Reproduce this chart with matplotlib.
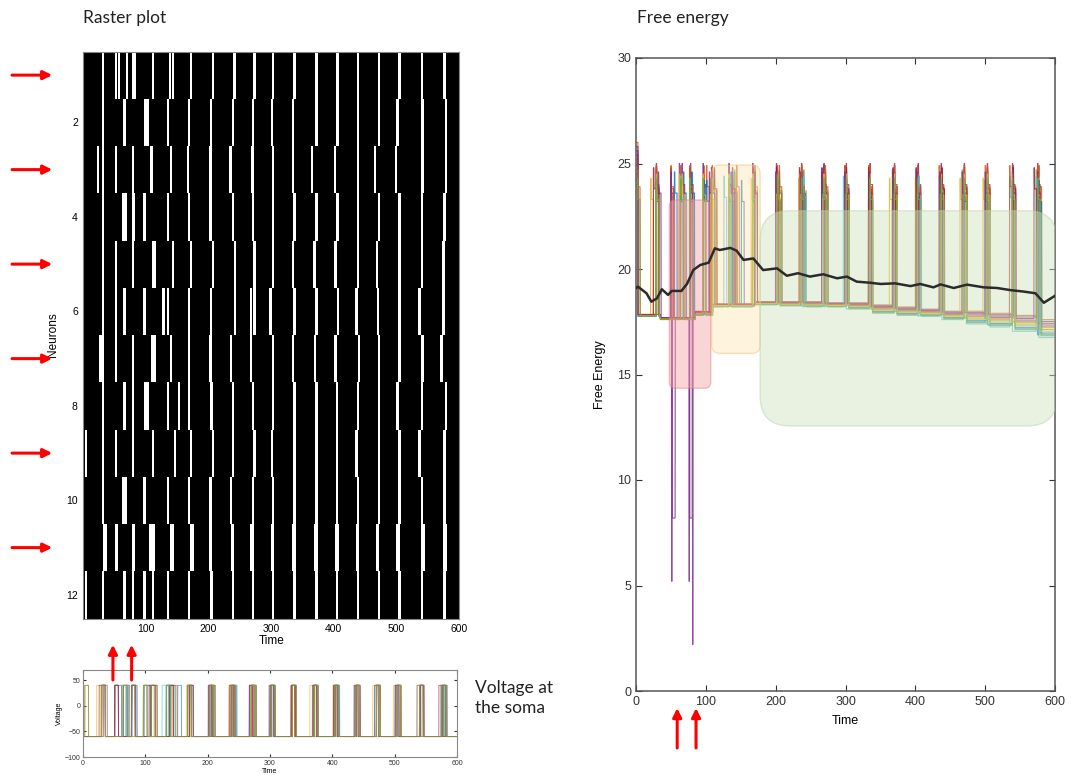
import numpy as np
import matplotlib.pyplot as plt
from matplotlib.patches import FancyBboxPatch
from matplotlib.transforms import blended_transform_factory

plt.rcParams['font.family'] = ['Liberation Sans', 'DejaVu Sans']

# spike onset times per neuron (neuron 1 first)
spikes = [
    [29, 50, 55, 68, 77, 80, 109, 136, 141, 170, 205, 239, 271, 301, 335, 370, 404, 437, 470, 503, 539, 575],
    [29, 64, 97, 101, 133, 167, 202, 237, 269, 299, 333, 370, 404, 437, 470, 500, 540, 577],
    [21, 29, 50, 77, 107, 138, 165, 201, 233, 268, 301, 333, 363, 400, 437, 464, 497, 540, 577],
    [29, 62, 66, 78, 96, 133, 167, 201, 237, 269, 301, 335, 370, 404, 437, 470, 503, 539, 575],
    [29, 50, 77, 109, 112, 141, 170, 205, 240, 271, 301, 333, 367, 401, 437, 467, 503, 539, 573],
    [29, 50, 64, 96, 126, 133, 167, 202, 240, 266, 271, 297, 335, 370, 405, 434, 469, 503, 535, 573],
    [25, 29, 50, 77, 108, 112, 138, 167, 201, 234, 266, 301, 333, 368, 401, 438, 470, 503, 540, 570],
    [29, 64, 77, 97, 101, 133, 151, 167, 203, 237, 269, 301, 335, 370, 403, 437, 470, 500, 539, 577],
    [2, 29, 50, 77, 109, 144, 170, 205, 237, 271, 299, 335, 370, 403, 434, 470, 503, 535, 575],
    [29, 62, 66, 96, 133, 167, 201, 234, 269, 301, 335, 370, 403, 437, 470, 503, 539, 575],
    [32, 50, 77, 105, 109, 138, 170, 200, 235, 266, 299, 334, 368, 402, 435, 467, 500, 540, 575],
    [2, 29, 64, 77, 96, 109, 133, 167, 203, 237, 269, 301, 335, 370, 403, 437, 470, 503, 539, 575],
]
spike_width = [4, 4, 4, 4, 4, 4, 4, 4, 4, 4, 6, 4]
volt_dur = 7
arrow_neurons = [1, 3, 5, 7, 9, 11]

# free energy: resting level between bursts (top / bottom of the bundle)
base_t = [0, 3, 35, 85, 110, 170, 205, 239, 271, 301, 335, 370, 404, 437, 470, 503, 539, 575]
base_hi = [26.0, 17.85, 17.7, 18.0, 18.35, 18.45, 18.45, 18.45, 18.4, 18.4, 18.3, 18.2, 18.1, 18.0, 18.0, 17.9, 17.8, 17.6]
base_lo = [24.0, 17.75, 17.6, 17.8, 18.2, 18.3, 18.25, 18.2, 18.2, 18.1, 17.9, 17.8, 17.75, 17.6, 17.4, 17.25, 17.05, 16.75]
base_rank = [0.75, 0.0, 0.45, 0.3, 0.55, 1.0, 0.2, 0.85, 0.4, 0.65, 0.1, 0.9]
fe_peak = [24.6, 24.9, 24.3, 25.0, 24.7, 24.4, 24.8, 24.2, 24.9, 24.5, 24.6, 24.3]
fe_dur = 4

# drops of the two purple traces
dip_neuron = [3, 10, 3, 10, 10]
dip_start = [51, 52, 76, 77, 81]
dip_end = [51.5, 56, 76.5, 80.5, 81.5]
dip_value = [5.2, 8.2, 5.2, 8.2, 2.2]

# mean free energy (black)
mean_t = [0, 3, 15, 22, 30, 37, 46, 51, 65, 73, 82, 92, 104, 113, 120, 135, 144, 154, 168, 182, 202,
          216, 232, 249, 268, 288, 302, 316, 335, 350, 371, 393, 407, 426, 436, 455, 474, 498, 517,
          536, 555, 572, 584, 600]
mean_v = [19.1, 19.16, 18.85, 18.45, 18.61, 19.04, 18.77, 18.96, 18.96, 19.29, 19.95, 20.19, 20.3,
          20.98, 20.9, 21.0, 20.87, 20.43, 20.5, 19.95, 20.03, 19.68, 19.8, 19.64, 19.75, 19.56,
          19.64, 19.4, 19.35, 19.29, 19.32, 19.19, 19.29, 19.13, 19.27, 19.1, 19.26, 19.13, 19.1,
          19.0, 18.93, 18.85, 18.4, 18.73]

# highlighted phases: t0, t1, low, high, face, edge, corner radius (px)
phases = [
    (47.7, 107.0, 14.35, 23.27, '#f4a3a3', '#e07a7a', 6),
    (108.4, 177.7, 16.0, 24.93, '#fde7b5', '#e6c46c', 8),
    (177.7, 603.0, 12.56, 22.76, '#cfe3bd', '#b9d0a4', 30),
]

voltage_arrows = [48, 78]
fe_arrows = [59, 86]

matlab_colors = ['#0072BD', '#D95319', '#EDB120', '#7E2F8E', '#77AC30', '#4DBEEE', '#A2142F']

t = np.arange(0, 600.25, 0.25)
seg = np.searchsorted(base_t, t, side='right') - 1
hi = np.array(base_hi)[seg]
lo = np.array(base_lo)[seg]

W, H = 1078, 775
fig = plt.figure(figsize=(W / 100, H / 100), dpi=100)
ax_r = fig.add_axes([83.4 / W, 1 - 618.5 / H, 375.6 / W, 567 / H])
ax_v = fig.add_axes([83 / W, 1 - 757 / H, 374 / W, 87 / H])
ax_f = fig.add_axes([636 / W, 1 - 691 / H, 419 / W, 633 / H])

# ---- raster ----
ax_r.set_facecolor('black')
for i, row in enumerate(spikes):
    ax_r.broken_barh([(s, spike_width[i]) for s in row], (i + 0.5, 1), facecolors='white',
                     edgecolor='none')
ax_r.set_xlim(0, 600)
ax_r.set_ylim(12.5, 0.5)
ax_r.set_xticks([100, 200, 300, 400, 500, 600])
ax_r.set_yticks([2, 4, 6, 8, 10, 12])
ax_r.tick_params(labelsize=7.5, length=0, pad=4)
ax_r.set_xlabel('Time', fontsize=8.5, labelpad=1)
ax_r.set_ylabel('Neurons', fontsize=8.5, labelpad=5)
for sp in ax_r.spines.values():
    sp.set_color('#888888')
tr = blended_transform_factory(ax_r.transAxes, ax_r.transData)
for n in arrow_neurons:
    ax_r.annotate('', xy=(-0.083, n), xytext=(-0.19, n), xycoords=tr, textcoords=tr,
                  arrowprops=dict(arrowstyle='-|>', color='#ff0000', lw=2.2, mutation_scale=13,
                                  shrinkA=0, shrinkB=0), annotation_clip=False)

# ---- voltage ----
for i, row in enumerate(spikes):
    v = np.full_like(t, -60.0)
    for s in row:
        v[(t >= s + 1) & (t < s + volt_dur)] = 40
    ax_v.plot(t, v, color=matlab_colors[i % 7], lw=0.7, alpha=0.6)
ax_v.set_xlim(0, 600)
ax_v.set_ylim(-100, 70)
ax_v.set_xticks(range(0, 601, 100))
ax_v.set_yticks([-100, -50, 0, 50])
ax_v.tick_params(labelsize=5, direction='in', length=2, top=True, right=True, pad=2, colors='#333333')
ax_v.set_xlabel('Time', fontsize=5, labelpad=1)
ax_v.set_ylabel('Voltage', fontsize=5, labelpad=1)
for sp in ax_v.spines.values():
    sp.set_color('#888888')
    sp.set_linewidth(0.8)
trv = blended_transform_factory(ax_v.transData, ax_v.transAxes)
for a in voltage_arrows:
    ax_v.annotate('', xy=(a, 1.29), xytext=(a, 0.885), xycoords=trv, textcoords=trv,
                  arrowprops=dict(arrowstyle='-|>', color='#ff0000', lw=2.2, mutation_scale=13,
                                  shrinkA=0, shrinkB=0), annotation_clip=False)

# ---- free energy ----
for k, row in enumerate(spikes):
    y = hi + (lo - hi) * base_rank[k]
    for s in row:
        y[(t >= s) & (t < s + 0.75)] = fe_peak[k]
        y[(t >= s + 0.75) & (t < s + fe_dur)] = fe_peak[k] - 1.0
    for n, a, b, d in zip(dip_neuron, dip_start, dip_end, dip_value):
        if n == k:
            y[(t >= a) & (t <= b)] = d
    ax_f.plot(t, y, color=matlab_colors[k % 7], lw=0.8, alpha=0.85, zorder=2)

ax_f.set_xlim(0, 600)
ax_f.set_ylim(0, 30)
px_x = 419 / 600
px_y = 633 / 30
for t0, t1, v0, v1, face, edge, r in phases:
    box = FancyBboxPatch((t0, v0), t1 - t0, v1 - v0,
                         boxstyle='round,pad=0,rounding_size=%f' % (r / px_x),
                         mutation_aspect=px_x / px_y, facecolor=face, edgecolor=edge,
                         alpha=0.45, lw=1.0, zorder=3)
    ax_f.add_patch(box)
ax_f.plot(mean_t, mean_v, color='#2b2b2b', lw=1.8, zorder=4)

ax_f.set_xticks(range(0, 601, 100))
ax_f.set_yticks(range(0, 31, 5))
ax_f.tick_params(labelsize=9, direction='in', length=4, top=True, right=True, colors='#333333')
ax_f.set_xlabel('Time', fontsize=9, labelpad=5)
ax_f.set_ylabel('Free Energy', fontsize=9, labelpad=8)
for sp in ax_f.spines.values():
    sp.set_color('#555555')
    sp.set_linewidth(1.1)
trf = blended_transform_factory(ax_f.transData, ax_f.transAxes)
for a in fe_arrows:
    ax_f.annotate('', xy=(a, -0.027), xytext=(a, -0.09), xycoords=trf, textcoords=trf,
                  arrowprops=dict(arrowstyle='-|>', color='#ff0000', lw=2.2, mutation_scale=13,
                                  shrinkA=0, shrinkB=0), annotation_clip=False)

# ---- panel titles ----
title_font = dict(family=['Lato', 'DejaVu Sans'], fontsize=12.5, color='#222222')
fig.text(83 / W, 1 - 18 / H, 'Raster plot', va='center', ha='left', **title_font)
fig.text(637 / W, 1 - 18 / H, 'Free energy', va='center', ha='left', **title_font)
fig.text(475 / W, 1 - 698 / H, 'Voltage at\nthe soma', va='center', ha='left',
         linespacing=1.25, **title_font)

fig.savefig('out.png', dpi=100)
